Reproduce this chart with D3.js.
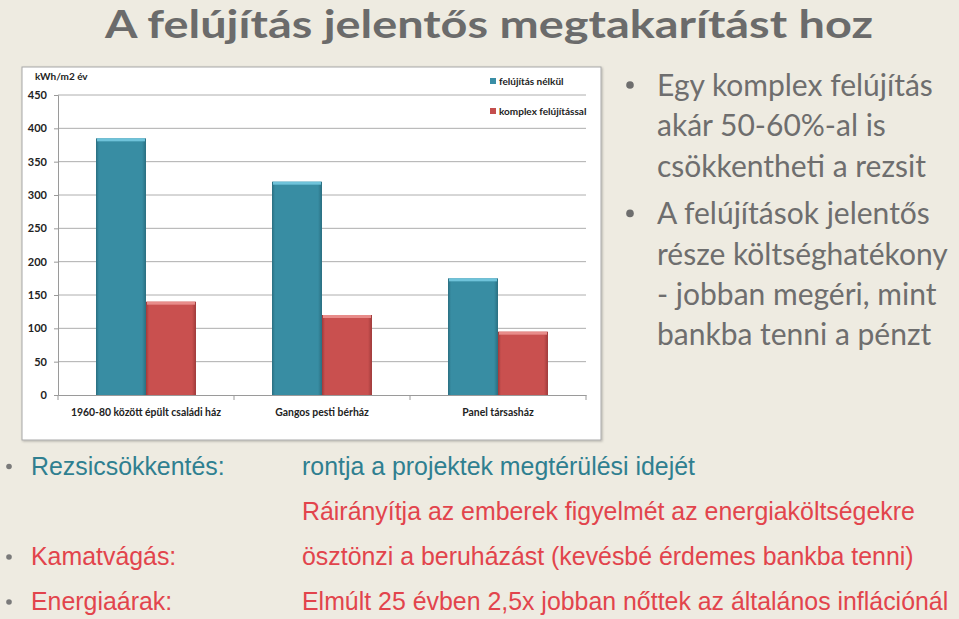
<!DOCTYPE html>
<html><head><meta charset="utf-8">
<script src="https://cdn.jsdelivr.net/npm/d3@7"></script>
<style>html,body{margin:0;padding:0;background:#EEEBE1;}svg{display:block;}</style>
</head><body>
<script>
const categories = ["1960-80 között épült családi ház", "Gangos pesti bérház", "Panel társasház"];
const seriesNames = ["felújítás nélkül", "komplex felújítással"];
const withoutRenovation = [385, 320, 175];
const withRenovation = [140, 120, 95];
const yTicks = [0, 50, 100, 150, 200, 250, 300, 350, 400, 450];
const yUnit = "kWh/m2 év";
const title = "A felújítás jelentős megtakarítást hoz";
const sideBullets = [
  ["Egy komplex felújítás", "akár 50-60%-al is", "csökkentheti a rezsit"],
  ["A felújítások jelentős", "része költséghatékony", "-  jobban megéri, mint", "bankba tenni a pénzt"]
];
const bottomRows = [
  {label: "Rezsicsökkentés:", text: "rontja a projektek megtérülési idejét", color: "#2F7F90", bullet: true},
  {label: "", text: "Ráirányítja az emberek figyelmét az energiaköltségekre", color: "#E2444C", bullet: false},
  {label: "Kamatvágás:", text: "ösztönzi a beruházást (kevésbé érdemes bankba tenni)", color: "#E2444C", bullet: true},
  {label: "Energiaárak:", text: "Elmúlt 25 évben 2,5x jobban nőttek az általános inflációnál", color: "#E2444C", bullet: true}
];

const W = 959, H = 619;
const svg = d3.select("body").append("svg").attr("width", W).attr("height", H);
svg.append("rect").attr("width", W).attr("height", H).attr("fill", "#EEEBE1");

// Title
svg.append("text").attr("x", 489).attr("y", 38).attr("text-anchor", "middle")
  .attr("font-family", "Lato, 'Open Sans', sans-serif").attr("font-weight", "bold")
  .attr("font-size", 39).attr("fill", "#6B6B6B").text(title)
  .attr("textLength", 768).attr("lengthAdjust", "spacingAndGlyphs");

// Chart panel
const defs = svg.append("defs");
const flt = defs.append("filter").attr("id", "sh").attr("x", "-5%").attr("y", "-5%").attr("width", "110%").attr("height", "110%");
flt.append("feDropShadow").attr("dx", 1).attr("dy", 1).attr("stdDeviation", 1.2).attr("flood-color", "#000").attr("flood-opacity", 0.25);
svg.append("rect").attr("x", 22).attr("y", 67).attr("width", 579).attr("height", 373)
  .attr("fill", "#ffffff").attr("stroke", "#A8A8A8").attr("stroke-width", 1).attr("filter", "url(#sh)");

function grad(id, mid, dark) {
  const g = defs.append("linearGradient").attr("id", id).attr("x1", 0).attr("x2", 1).attr("y1", 0).attr("y2", 0);
  g.append("stop").attr("offset", "0%").attr("stop-color", dark);
  g.append("stop").attr("offset", "6%").attr("stop-color", mid);
  g.append("stop").attr("offset", "92%").attr("stop-color", mid);
  g.append("stop").attr("offset", "100%").attr("stop-color", dark);
}
grad("gBlue", "#388DA3", "#2A6E80");
grad("gRed", "#C9504F", "#9E3A3A");
const colors = ["url(#gBlue)", "url(#gRed)"];
const capColors = ["#6FC3DA", "#E88C8A"];
const legendColors = ["#3A8EA6", "#C44E4E"];

const x0 = d3.scaleBand().domain(categories).range([58, 586]).paddingInner(0).paddingOuter(0);
const x1 = d3.scaleBand().domain(seriesNames).range([x0.bandwidth() * 0.2159, x0.bandwidth() * 0.784]).padding(0);
const y = d3.scaleLinear().domain([0, 450]).range([395, 95]);

// Grid
svg.append("g").selectAll("line").data(yTicks.filter(d => d > 0)).join("line")
  .attr("x1", 58).attr("x2", 586).attr("y1", d => y(d)).attr("y2", d => y(d))
  .attr("stroke", "#AEAEAE").attr("stroke-width", 1);

// Y axis
const yAxis = svg.append("g").attr("transform", "translate(58,0)")
  .call(d3.axisLeft(y).tickValues(yTicks).tickSize(4).tickPadding(7));
yAxis.select(".domain").attr("stroke", "#9A9A9A");
yAxis.selectAll(".tick line").attr("stroke", "#9A9A9A");
yAxis.selectAll("text").attr("font-family", "Lato, sans-serif").attr("font-size", 11).attr("font-weight", "bold").attr("fill", "#222");

// Bars
const series = [withoutRenovation, withRenovation];
const barG = svg.append("g");
categories.forEach((c, i) => {
  seriesNames.forEach((s, j) => {
    const v = series[j][i];
    const bx = x0(c) + x1(s), bw = x1.bandwidth();
    barG.append("rect").attr("x", bx).attr("y", y(v)).attr("width", bw).attr("height", y(0) - y(v))
      .attr("fill", colors[j]);
    barG.append("rect").attr("x", bx + 1).attr("y", y(v)).attr("width", bw - 2).attr("height", 3)
      .attr("fill", capColors[j]);
  });
});

// X axis
const xAxis = svg.append("g").attr("transform", "translate(0,395)")
  .call(d3.axisBottom(x0).tickSize(0).tickPadding(14));
xAxis.select(".domain").attr("stroke", "#9A9A9A");
xAxis.selectAll("text").attr("font-family", "Lato, sans-serif").attr("font-size", 10.4).attr("font-weight", "bold").attr("fill", "#222");
svg.append("g").selectAll("line").data([0, 1, 2, 3]).join("line")
  .attr("x1", d => 58 + d * x0.step()).attr("x2", d => 58 + d * x0.step())
  .attr("y1", 395).attr("y2", 400).attr("stroke", "#9A9A9A");

// Unit label
svg.append("text").attr("x", 35).attr("y", 80).attr("font-family", "Lato, sans-serif")
  .attr("font-size", 10).attr("font-weight", "bold").attr("fill", "#222").text(yUnit);

// Legend
const leg = svg.append("g");
seriesNames.forEach((s, j) => {
  const ly = 81 + j * 30;
  leg.append("rect").attr("x", 490).attr("y", ly - 3).attr("width", 6).attr("height", 6).attr("fill", legendColors[j]);
  leg.append("text").attr("x", 499).attr("y", ly + 3.5).attr("font-family", "Lato, sans-serif")
    .attr("font-size", 10).attr("font-weight", "bold").attr("fill", "#222").text(s);
});

// Side bullets
const side = svg.append("g").attr("font-family", "Lato, 'Open Sans', sans-serif").attr("fill", "#6E6E6E");
let ly = 96;
sideBullets.forEach((lines, bi) => {
  side.append("circle").attr("cx", 630).attr("cy", ly - 11).attr("r", 3.8).attr("fill", "#6E6E6E");
  lines.forEach((l, li) => {
    side.append("text").attr("x", 657).attr("y", ly).attr("font-size", 30).text(l);
    ly += 40.3;
  });
  ly += 7.5;
});

// Bottom rows
const bot = svg.append("g").attr("font-family", "'Liberation Sans', Arial, sans-serif").attr("font-size", 24.9);
const rowY = [474.5, 520, 565, 610];
bottomRows.forEach((r, i) => {
  if (r.bullet) bot.append("circle").attr("cx", 9).attr("cy", rowY[i] - 8).attr("r", 2.8).attr("fill", "#7A7A7A");
  if (r.label) bot.append("text").attr("x", 31).attr("y", rowY[i]).attr("fill", r.color).text(r.label);
  bot.append("text").attr("x", 302).attr("y", rowY[i]).attr("fill", r.color).text(r.text);
});
</script>
</body></html>
